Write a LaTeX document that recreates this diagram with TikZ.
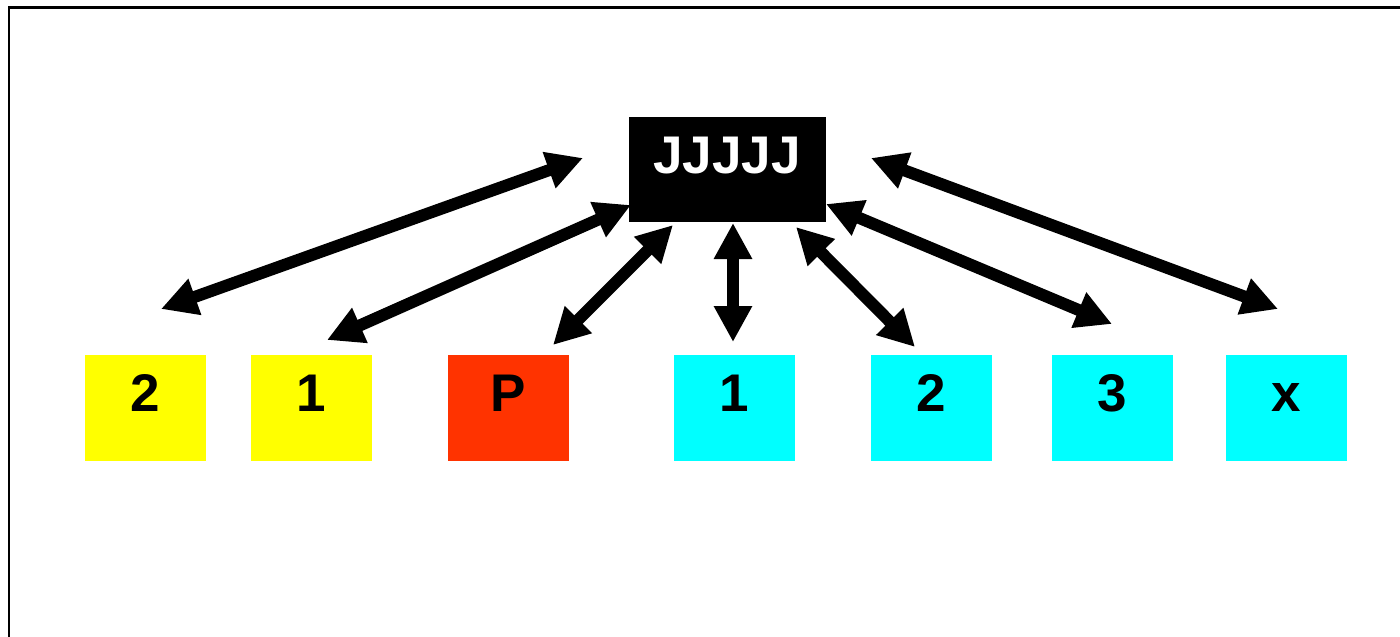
\documentclass[tikz,border=0pt]{standalone}
\usepackage{fontspec}
\setmainfont{Liberation Sans}
\usetikzlibrary{arrows.meta}
\definecolor{cyel}{HTML}{FFFF00}
\definecolor{cred}{HTML}{FF3300}
\definecolor{ccyan}{HTML}{00FFFF}
\tikzset{
  box/.style={inner sep=0pt, outer sep=0pt, minimum width=121pt, minimum height=106pt},
  lbl/.style={inner sep=0pt, anchor=base, font=\fontsize{53}{53}\selectfont\bfseries},
  link/.style={line width=12pt, {Triangle[length=36pt,width=36pt]}-{Triangle[length=36pt,width=36pt]}}
}
\begin{document}
\begin{tikzpicture}[x=1pt,y=-1pt]
\useasboundingbox (0,0) rectangle (1400,637);
\fill[white] (0,0) rectangle (1400,637);
\draw[line width=2.5pt] (9,640) -- (9,7.5) -- (1403,7.5);
% hub
\node[box, fill=black, minimum width=197pt, minimum height=105pt] (hub) at (727.5,169.5) {};
\node[lbl, text=white] (hubt) at (727,173) {JJJJJ};
% boxes
\node[box, fill=cyel] (y2) at (145.5,408) {};
\node[box, fill=cyel] (y1) at (311.5,408) {};
\node[box, fill=cred] (p) at (508.5,408) {};
\node[box, fill=ccyan] (c1) at (734.5,408) {};
\node[box, fill=ccyan] (c2) at (931.5,408) {};
\node[box, fill=ccyan] (c3) at (1112.5,408) {};
\node[box, fill=ccyan] (cx) at (1286.5,408) {};
\node[lbl] at (145.5,411) {2};
\node[lbl] at (311.5,411) {1};
\node[lbl] at (508.5,411) {P};
\node[lbl] at (734.5,411) {1};
\node[lbl] at (931.5,411) {2};
\node[lbl] at (1112.5,411) {3};
\node[lbl] at (1286.5,411) {x};
% arrow ends
\coordinate (a1t) at (583,158); \coordinate (a1b) at (161,309);
\coordinate (a2t) at (631,205); \coordinate (a2b) at (327,340);
\coordinate (a3t) at (673,225); \coordinate (a3b) at (553,345);
\coordinate (a4t) at (733,223); \coordinate (a4b) at (733,342);
\coordinate (a5t) at (796,227); \coordinate (a5b) at (915,347);
\coordinate (a6t) at (826,204); \coordinate (a6b) at (1112,324);
\coordinate (a7t) at (871,158); \coordinate (a7b) at (1278,309);
\draw[link] (a1t) -- (a1b);
\draw[link] (a2t) -- (a2b);
\draw[link] (a3t) -- (a3b);
\draw[link] (a4t) -- (a4b);
\draw[link] (a5t) -- (a5b);
\draw[link] (a6t) -- (a6b);
\draw[link] (a7t) -- (a7b);
\end{tikzpicture}
\end{document}
